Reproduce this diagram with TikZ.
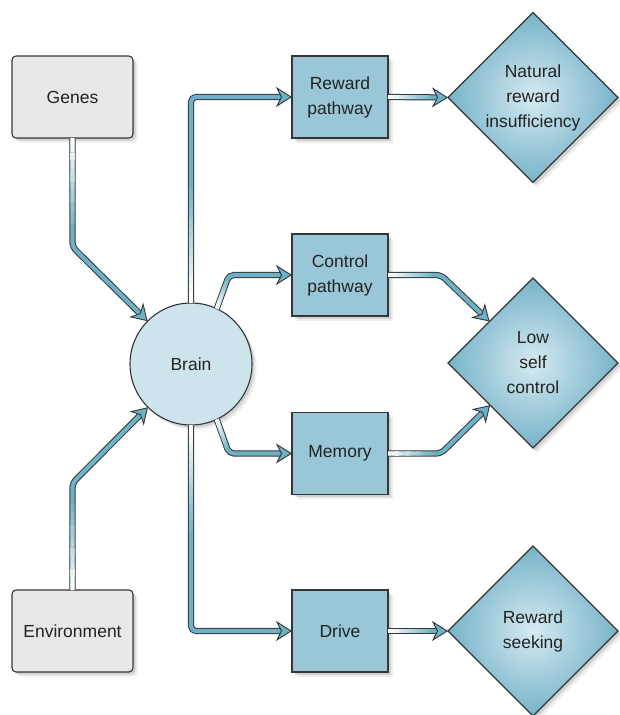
\documentclass[tikz,border=0pt]{standalone}
\usepackage{fontspec}
\setmainfont{Liberation Sans}
\usetikzlibrary{arrows.meta,shapes.geometric,shadows,calc}
\definecolor{boxblue}{HTML}{9AC7D7}
\definecolor{brainfill}{HTML}{CDE4EC}
\definecolor{grayfill}{HTML}{E8E8E8}
\definecolor{linecol}{HTML}{6DB1C7}
\definecolor{edgecol}{HTML}{363636}
\definecolor{txtcol}{HTML}{222222}
\definecolor{diaout}{HTML}{76B3C8}
\definecolor{diain}{HTML}{D6EAF1}
\tikzset{
  shad/.style={drop shadow={shadow xshift=4.5pt, shadow yshift=-4.5pt, opacity=0.12, fill=black!60},
               drop shadow={shadow xshift=2.5pt, shadow yshift=-2.5pt, opacity=0.2, fill=black!60}},
  base/.style={font=\fontsize{17.5}{25}\selectfont, text=txtcol, align=center, draw=edgecol, line width=1.1pt, inner sep=0pt, outer sep=0pt},
  graybox/.style={base, shad, fill=grayfill, rounded corners=4pt, minimum width=121pt, minimum height=82pt},
  bluebox/.style={base, shad, fill=boxblue, minimum width=96pt, minimum height=82pt},
  brainnode/.style={base, shad, circle, fill=brainfill, minimum size=122pt},
  dia/.style={base, shad, diamond, inner color=diain, outer color=diaout, minimum width=170pt, minimum height=170pt},
  lbl/.style={font=\fontsize{17.5}{25}\selectfont, text=txtcol, align=center, inner sep=0pt},
  conn/.style={draw=edgecol, line width=1pt, double=linecol, double distance=4.2pt, rounded corners=5pt,
     -{Stealth[length=16pt, width=20pt, inset=5pt, fill=linecol, line width=0.9pt]}},
}
\newcommand\fadeseg[2]{%
  \foreach \i in {0,...,11}{%
    \pgfmathsetmacro\op{1-\i/12}%
    \draw[white, line width=4.2pt, opacity=\op] ($(#1)!{\i/12}!(#2)$) -- ($(#1)!{(\i+1)/12}!(#2)$);
  }%
}
\begin{document}
\begin{tikzpicture}[x=1pt,y=-1pt]
\path[use as bounding box, fill=white] (0,0) rectangle (620,715);
\node[graybox] (genes) at (72.5,97) {Genes};
\node[graybox] (env) at (72.5,631) {Environment};
\node[brainnode] (brain) at (191,364) {Brain};
\node[bluebox] (reward) at (340,97) {Reward\\pathway};
\node[bluebox] (control) at (340,275) {Control\\pathway};
\node[bluebox] (memory) at (340,453.5) {Memory};
\node[bluebox] (drive) at (340,631) {Drive};
\node[dia] (d1) at (533,97.5) {};
\node[lbl] (d1t) at (533,97.5) {Natural\\reward\\insufficiency};
\node[dia] (d2) at (533,363) {};
\node[lbl] (d2t) at (533,363) {Low\\self\\control};
\node[dia] (d3) at (533,631) {};
\node[lbl] (d3t) at (533,631) {Reward\\seeking};
\coordinate (gbend) at (72.5,247);
\coordinate (ebend) at (72.5,483);
\coordinate (cbend) at (229,275);
\coordinate (mbend) at (229,453.5);
\coordinate (c2bend) at (441,275);
\coordinate (m2bend) at (441,453.5);
\draw[conn] (genes.south) -- (gbend) -- (brain);
\draw[conn] (env.north) -- (ebend) -- (brain);
\draw[conn] (brain.north) |- (reward.west);
\draw[conn] (brain.65) -- (cbend) -- (control.west);
\draw[conn] (brain.-65) -- (mbend) -- (memory.west);
\draw[conn] (brain.south) |- (drive.west);
\draw[conn] (reward.east) -- (d1.west);
\draw[conn] (control.east) -- (c2bend) -- (d2);
\draw[conn] (memory.east) -- (m2bend) -- (d2);
\draw[conn] (drive.east) -- (d3.west);
\coordinate (f1) at (72.5,225);
\coordinate (f2) at (72.5,505);
\coordinate (f3) at (191,190);
\coordinate (f4) at (191,530);
\coordinate (f5) at (227,280);
\coordinate (f6) at (227,449);
\coordinate (f7) at (430,97);
\coordinate (f8) at (432,275);
\coordinate (f9) at (432,453.5);
\coordinate (f10) at (430,631);
\fadeseg{genes.south}{f1}
\fadeseg{env.north}{f2}
\fadeseg{brain.north}{f3}
\fadeseg{brain.south}{f4}
\fadeseg{brain.65}{f5}
\fadeseg{brain.-65}{f6}
\fadeseg{reward.east}{f7}
\fadeseg{control.east}{f8}
\fadeseg{memory.east}{f9}
\fadeseg{drive.east}{f10}
\end{tikzpicture}
\end{document}
